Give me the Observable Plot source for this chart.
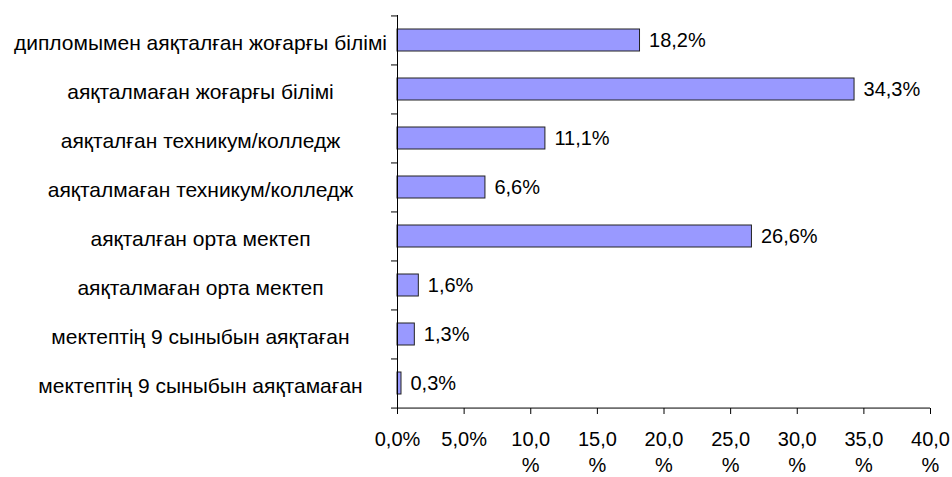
<!DOCTYPE html>
<html>
<head>
<meta charset="utf-8">
<script src="https://cdn.jsdelivr.net/npm/d3@7"></script>
<script src="https://cdn.jsdelivr.net/npm/@observablehq/plot@0.6"></script>
<style>
  html, body { margin: 0; padding: 0; background: #fff; }
</style>
</head>
<body>
<div id="chart"></div>
<script>
const categories = [
  "дипломымен аяқталған жоғарғы білімі",
  "аяқталмаған жоғарғы білімі",
  "аяқталған техникум/колледж",
  "аяқталмаған техникум/колледж",
  "аяқталған орта мектеп",
  "аяқталмаған орта мектеп",
  "мектептің 9 сыныбын аяқтаған",
  "мектептің 9 сыныбын аяқтамаған"
];
const values = [18.2, 34.3, 11.1, 6.6, 26.6, 1.6, 1.3, 0.3];
const valueLabels = ["18,2%", "34,3%", "11,1%", "6,6%", "26,6%", "1,6%", "1,3%", "0,3%"];
const xTicks = [0, 5, 10, 15, 20, 25, 30, 35, 40];
const xTickLabels = ["0,0%", "5,0%", "10,0%", "15,0%", "20,0%", "25,0%", "30,0%", "35,0%", "40,0%"];

const data = categories.map((c, i) => ({category: c, value: values[i], label: valueLabels[i]}));

const W = 952, H = 477;
const mt = 15, mb = 69, ml = 397, mr = 22;
const step = (H - mt - mb) / categories.length;
const pxPerUnit = (W - ml - mr) / 40;
const tickLen = 6 / pxPerUnit;

const wrap = s => s.length > 4 ? s.replace("%", "\n%") : s;

const chart = Plot.plot({
  width: W,
  height: H,
  marginTop: mt,
  marginBottom: mb,
  marginLeft: ml,
  marginRight: mr,
  style: {fontFamily: "'Liberation Sans', Arial, sans-serif", fontSize: "20px", color: "#000", background: "#fff"},
  x: {domain: [0, 40]},
  y: {domain: categories, paddingInner: 0.56, paddingOuter: 0.28},
  marks: [
    Plot.barX(data, {x: "value", y: "category", fill: "#9999ff", stroke: "#222", strokeWidth: 1}),
    Plot.text(data, {x: "value", y: "category", text: "label", textAnchor: "start", dx: 9, fill: "#000", fontSize: 20}),
    Plot.ruleX([0], {stroke: "#000"}),
    Plot.ruleY(categories, {y: d => d, x1: -tickLen, x2: 0, dy: -step / 2, stroke: "#000"}),
    Plot.ruleY([categories[categories.length - 1]], {y: d => d, x1: -tickLen, x2: 40, dy: step / 2, stroke: "#000"}),
    Plot.axisX({
      ticks: xTicks,
      tickFormat: d => wrap(xTickLabels[xTicks.indexOf(d)]),
      tickSize: 6,
      tickPadding: 13,
      lineHeight: 1.3,
      fontSize: 20,
      stroke: "#000",
      fill: "#000",
      label: null
    }),
    Plot.axisY({
      tickSize: 0,
      tickPadding: 197,
      textAnchor: "middle",
      dy: 3,
      fontSize: 21,
      fill: "#000",
      label: null
    })
  ]
});
document.getElementById("chart").appendChild(chart);
</script>
</body>
</html>
